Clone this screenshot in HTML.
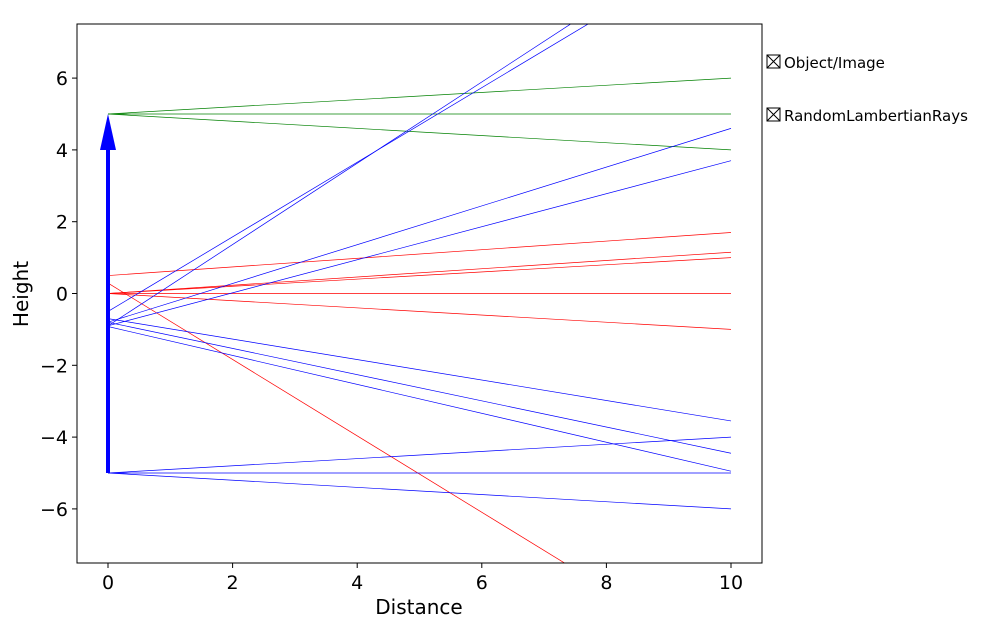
<!DOCTYPE html>
<html><head><meta charset="utf-8"><style>html,body{margin:0;background:#fff;overflow:hidden;width:981px;height:628px}svg{display:block;font-family:"DejaVu Sans","Liberation Sans",sans-serif}</style></head>
<body>
<svg id="chart" width="981" height="628" xmlns="http://www.w3.org/2000/svg">
<defs><clipPath id="clip"><rect x="77" y="24" width="685" height="539"/></clipPath></defs>
<g id="rays" clip-path="url(#clip)"></g>
<g id="arrow"></g>
<rect x="77" y="24" width="685" height="539" fill="none" stroke="#000" stroke-width="1"/>
<g id="xticks"></g>
<g id="yticks"></g>
<text x="419" y="614" font-size="20" text-anchor="middle">Distance</text>
<text transform="translate(28,294) rotate(-90)" font-size="20" text-anchor="middle">Height</text>
<g>
<g>
<rect x="767" y="55" width="13" height="13" fill="none" stroke="#000"/><path d="M767 55L780 68M780 55L767 68" stroke="#000"/>
<text x="784" y="68" font-size="15">Object/Image</text></g>
<g>
<rect x="767" y="108" width="13" height="13" fill="none" stroke="#000"/><path d="M767 108L780 121M780 108L767 121" stroke="#000"/>
<text x="784" y="121" font-size="15">RandomLambertianRays</text></g>
</g>
</svg>
<script>
const xTicks=[0,2,4,6,8,10];
const yTicks=[-6,-4,-2,0,2,4,6];
const rayStartY=[5,5,5, 0.5,0,0,0,0,0.29, -5,-5,-5, -0.9,-0.5,-0.8,-0.9,-0.7,-0.8,-0.92];
const rayEndY=[6,5,4, 1.7,1.15,1.0,0,-1,-10.35, -4,-5,-6, 10.42,9.89,4.6,3.7,-3.55,-4.45,-4.95];
const rayColors=["green","green","green","red","red","red","red","red","red","blue","blue","blue","blue","blue","blue","blue","blue","blue","blue"];
const arrowBottom=-5, arrowTop=5;
const X=v=>108+(v)*62.3, Y=v=>293.5-v*35.9;
const NS="http://www.w3.org/2000/svg";
function mk(t,a,p){const e=document.createElementNS(NS,t);for(const k in a)e.setAttribute(k,a[k]);p.appendChild(e);return e;}
const rays=document.getElementById('rays');
rayStartY.forEach((s,i)=>{const l=mk('line',{x1:X(0),y1:Y(s),x2:X(10),y2:Y(rayEndY[i]),stroke:rayColors[i],'stroke-width':0.7},rays);

});
const ar=document.getElementById('arrow');
mk('line',{x1:X(0),y1:Y(arrowBottom),x2:X(0),y2:Y(arrowTop)+34,stroke:'blue','stroke-width':4},ar);
mk('polygon',{points:`${X(0)},${Y(arrowTop)} ${X(0)-8},${Y(arrowTop)+36} ${X(0)+8},${Y(arrowTop)+36}`,fill:'blue'},ar);
const xt=document.getElementById('xticks');
xTicks.forEach(v=>{mk('line',{x1:X(v),y1:563,x2:X(v),y2:568,stroke:'#000'},xt);
const t=mk('text',{x:X(v),y:589,'font-size':19,'text-anchor':'middle'},xt);t.textContent=v;

});
const yt=document.getElementById('yticks');
yTicks.forEach(v=>{mk('line',{x1:72,y1:Y(v),x2:77,y2:Y(v),stroke:'#000'},yt);
const t=mk('text',{x:68,y:Y(v)+7,'font-size':19,'text-anchor':'end'},yt);t.textContent=v<0?'\u2212'+(-v):v;

});
</script>
</body></html>
